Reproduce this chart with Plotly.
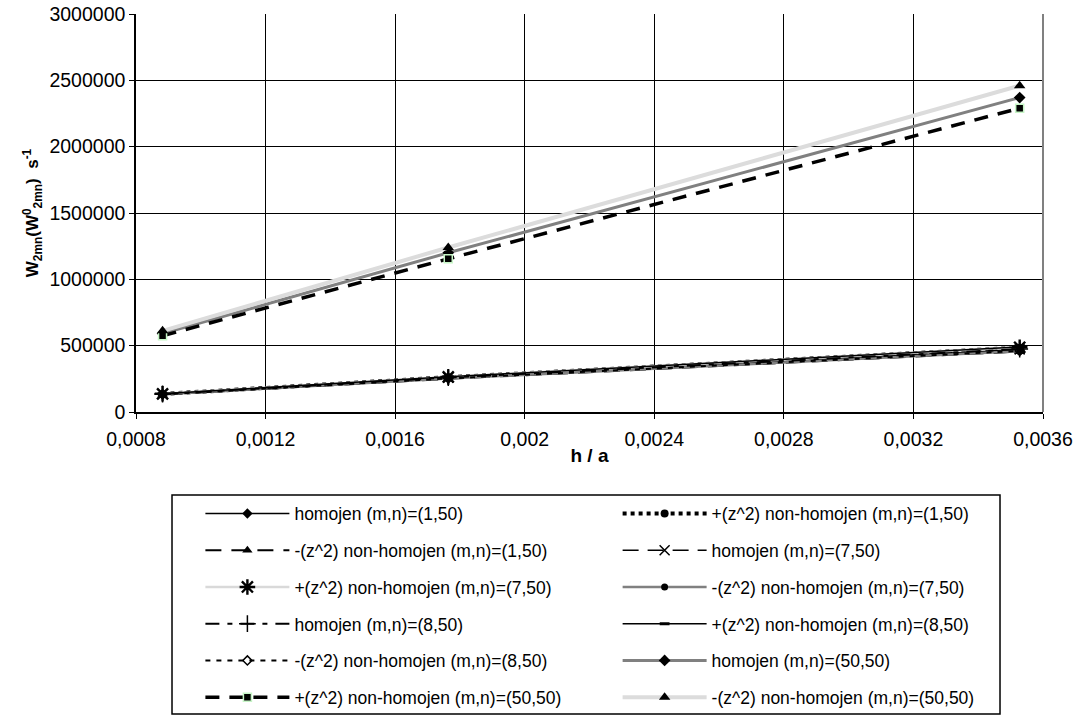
import plotly.graph_objects as go

# h/a ratios of the three plates
h_over_a = [0.000882, 0.001764, 0.003528]

# Frequencies (s^-1) per mode and model
homo_1_50 = [134000, 258000, 470000]
plus_1_50 = [136000, 262000, 485000]
minus_1_50 = [132000, 250000, 455000]
homo_7_50 = [135000, 259000, 472000]
plus_7_50 = [137000, 264000, 488000]
minus_7_50 = [133000, 252000, 458000]
homo_8_50 = [135500, 260000, 474000]
plus_8_50 = [138000, 265000, 490000]
minus_8_50 = [133000, 253000, 460000]
homo_50_50 = [592000, 1200000, 2370000]
plus_50_50 = [575000, 1155000, 2290000]
minus_50_50 = [612000, 1240000, 2460000]

series_names = [
    "homojen (m,n)=(1,50)",
    "+(z^2) non-homojen (m,n)=(1,50)",
    "-(z^2) non-homojen (m,n)=(1,50)",
    "homojen (m,n)=(7,50)",
    "+(z^2) non-homojen (m,n)=(7,50)",
    "-(z^2) non-homojen (m,n)=(7,50)",
    "homojen (m,n)=(8,50)",
    "+(z^2) non-homojen (m,n)=(8,50)",
    "-(z^2) non-homojen (m,n)=(8,50)",
    "homojen (m,n)=(50,50)",
    "+(z^2) non-homojen (m,n)=(50,50)",
    "-(z^2) non-homojen (m,n)=(50,50)",
]
series_values = [
    homo_1_50, plus_1_50, minus_1_50,
    homo_7_50, plus_7_50, minus_7_50,
    homo_8_50, plus_8_50, minus_8_50,
    homo_50_50, plus_50_50, minus_50_50,
]

x_tickvals = [0.0008, 0.0012, 0.0016, 0.002, 0.0024, 0.0028, 0.0032, 0.0036]
x_ticktext = ["0,0008", "0,0012", "0,0016", "0,002", "0,0024", "0,0028", "0,0032", "0,0036"]
y_tickvals = [0, 500000, 1000000, 1500000, 2000000, 2500000, 3000000]
y_ticktext = ["0", "500000", "1000000", "1500000", "2000000", "2500000", "3000000"]

# line / marker styling for each series
styles = [
    dict(line=dict(color="black", width=1.5), marker=dict(symbol="diamond", size=8, color="black")),
    dict(line=dict(color="black", width=4, dash="4px,4px"), marker=dict(symbol="circle", size=8, color="black")),
    dict(line=dict(color="black", width=2, dash="16px,10px"), marker=dict(symbol="triangle-up", size=9, color="black")),
    dict(line=dict(color="black", width=1.5, dash="16px,9px"),
         marker=dict(symbol="x-thin-open", size=10, color="black", line=dict(width=1.5, color="black"))),
    dict(line=dict(color="#d9d9d9", width=2.5),
         marker=dict(symbol="asterisk-open", size=13, color="black", line=dict(width=2.4, color="black"))),
    dict(line=dict(color="#808080", width=2.5), marker=dict(symbol="circle", size=7, color="black")),
    dict(line=dict(color="black", width=2, dash="14px,8px,5px,8px"),
         marker=dict(symbol="cross-thin-open", size=12, color="black", line=dict(width=1.5, color="black"))),
    dict(line=dict(color="black", width=1.5),
         marker=dict(symbol="line-ew-open", size=7, color="black", line=dict(width=3, color="black"))),
    dict(line=dict(color="black", width=2, dash="5px,6px"),
         marker=dict(symbol="diamond-open", size=7, color="black", line=dict(width=1.5, color="black"))),
    dict(line=dict(color="#808080", width=3), marker=dict(symbol="diamond", size=9, color="black")),
    dict(line=dict(color="black", width=3.5, dash="14px,10px"),
         marker=dict(symbol="square", size=8, color="black", line=dict(width=1.5, color="#c6f5c6"))),
    dict(line=dict(color="#dcdcdc", width=4), marker=dict(symbol="triangle-up", size=10, color="black")),
]

fig = go.Figure()
for i, (name, vals, st) in enumerate(zip(series_names, series_values, styles)):
    fig.add_trace(go.Scatter(
        x=h_over_a, y=vals, name=name, mode="lines+markers",
        line=st["line"], marker=st["marker"],
        # two legend columns: even entries left, odd entries right
        legend="legend" if i % 2 == 0 else "legend2",
        legendgroup=f"g{i}",
    ))

FONT = "Liberation Sans, Arial, sans-serif"
axis_font = dict(family=FONT, size=19.5, color="black")
legend_common = dict(
    orientation="v", yanchor="top", xanchor="left",
    font=dict(family=FONT, size=17.5, color="black"),
    bgcolor="rgba(0,0,0,0)", borderwidth=0,
    itemwidth=84, traceorder="grouped", tracegroupgap=11,
    itemclick=False, itemdoubleclick=False,
)

fig.update_layout(
    width=1084, height=717,
    margin=dict(l=136, r=41, t=14, b=305, autoexpand=False),
    paper_bgcolor="white", plot_bgcolor="white",
    font=dict(family=FONT, color="black"),
    showlegend=True,
    legend=dict(x=0.071, y=-0.210, **legend_common),
    legend2=dict(x=0.531, y=-0.210, **legend_common),
    xaxis=dict(
        range=[0.0008, 0.0036], tickvals=x_tickvals, ticktext=x_ticktext,
        showgrid=True, gridcolor="black", gridwidth=1,
        showline=True, linecolor="black", linewidth=1.5,
        ticks="outside", ticklen=5, tickcolor="black", ticklabelstandoff=4,
        tickfont=axis_font, zeroline=False, automargin=False,
        title=dict(text="<b>h / a</b>", font=dict(family=FONT, size=19), standoff=0),
    ),
    yaxis=dict(
        range=[0, 3000000], tickvals=y_tickvals, ticktext=y_ticktext,
        showgrid=True, gridcolor="black", gridwidth=1,
        showline=True, linecolor="black", linewidth=1.5,
        ticks="outside", ticklen=5, tickcolor="black",
        tickfont=axis_font, zeroline=False, automargin=False,
        title=dict(text="<b>W<sub>2mn</sub>(W<sup>0</sup><sub>2mn</sub>)  s<sup>-1</sup></b>",
                   font=dict(family=FONT, size=17), standoff=6),
    ),
    shapes=[
        # plot-area right border
        dict(type="line", xref="paper", yref="paper", x0=1, x1=1, y0=0, y1=1,
             line=dict(color="#808080", width=2)),
        # frame around both legend columns
        dict(type="rect", xref="paper", yref="paper", x0=0.0397, x1=0.9526, y0=-0.7588, y1=-0.2085,
             line=dict(color="black", width=1.5), fillcolor="rgba(0,0,0,0)", layer="below"),
    ],
)

fig.write_html("out.html")
